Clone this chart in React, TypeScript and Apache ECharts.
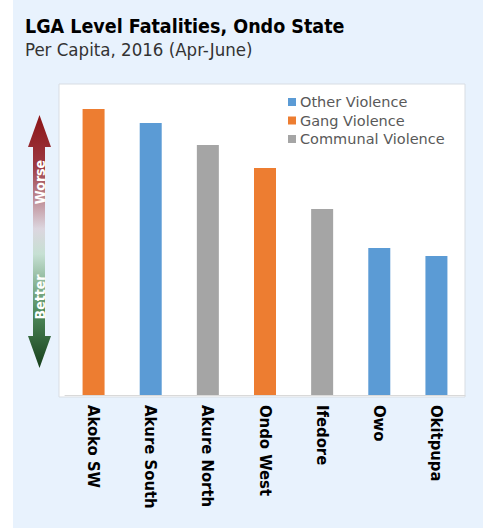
import React, { useEffect, useRef } from "react";
import * as echarts from "echarts";

const categories = ["Akoko SW", "Akure South", "Akure North", "Ondo West", "Ifedore", "Owo", "Okitpupa"];
const values = [2.86, 2.72, 2.5, 2.27, 1.86, 1.47, 1.39];
const types = ["Gang Violence", "Other Violence", "Communal Violence", "Gang Violence", "Communal Violence", "Other Violence", "Other Violence"];
const seriesNames = ["Other Violence", "Gang Violence", "Communal Violence"];
const seriesColors = ["#5b9bd5", "#ed7d31", "#a5a5a5"];

const NARROW = "'DejaVu Sans Condensed', 'Open Sans', sans-serif";

export default function App() {
  const ref = useRef<HTMLDivElement>(null);
  useEffect(() => {
    if (!ref.current) return;
    const chart = echarts.init(ref.current, undefined, { renderer: "svg" });
    const series = seriesNames.map((name, si) => ({
      name,
      type: "bar",
      stack: "all",
      barWidth: 22,
      itemStyle: { color: seriesColors[si] },
      data: values.map((v, i) => (types[i] === name ? v : null)),
    }));
    chart.setOption({
      animation: false,
      backgroundColor: "#ffffff",
      title: [
        {
          text: "LGA Level Fatalities, Ondo State",
          left: 20,
          top: 11,
          textStyle: { fontFamily: NARROW, fontWeight: "bold", fontSize: 19.5, color: "#000000" },
        },
        {
          text: "Per Capita, 2016 (Apr-June)",
          left: 20,
          top: 35,
          textStyle: { fontFamily: NARROW, fontWeight: "normal", fontSize: 18.5, color: "#333333" },
        },
      ],
      legend: {
        orient: "vertical",
        left: 283,
        top: 89.5,
        itemWidth: 8,
        itemHeight: 8,
        itemGap: 3.5,
        icon: "rect",
        data: seriesNames,
        textStyle: { fontFamily: "DejaVu Sans", fontSize: 14.5, color: "#595959", padding: [0, 0, 0, -1] },
      },
      grid: { left: 65, right: 18, top: 84, bottom: 134 },
      xAxis: {
        type: "category",
        data: categories,
        axisLine: { lineStyle: { color: "#d9d9d9", width: 1 } },
        axisTick: { show: false },
        axisLabel: {
          rotate: -90,
          margin: 10,
          fontFamily: NARROW,
          fontWeight: "bold",
          fontSize: 16.5,
          color: "#000000",
          interval: 0,
        },
      },
      yAxis: {
        type: "value",
        min: 0,
        max: 3.11,
        show: false,
        splitLine: { show: false },
      },
      graphic: [
        { type: "rect", z: -10, silent: true, shape: { x: 13, y: 0, width: 470, height: 528 }, style: { fill: "#e8f2fd" } },
        { type: "rect", z: -9, silent: true, shape: { x: 59, y: 84, width: 406, height: 313 }, style: { fill: "#ffffff", stroke: "#d8dde3", lineWidth: 1 } },
        {
          type: "polygon",
          silent: true,
          shape: {
            points: [
              [39.5, 115], [51, 147], [45, 147], [45, 336], [51, 336], [39.5, 368], [28, 336], [33, 336], [33, 147], [28, 147],
            ],
          },
          style: {
            fill: new echarts.graphic.LinearGradient(0, 0, 0, 1, [
              { offset: 0, color: "#8c1416" },
              { offset: 0.2, color: "#9c3942" },
              { offset: 0.45, color: "#dcd6df" },
              { offset: 0.55, color: "#c6e0d3" },
              { offset: 0.78, color: "#4f8a5b" },
              { offset: 1, color: "#163f1b" },
            ]),
          },
        },
        {
          type: "text",
          silent: true,
          x: 39.5,
          y: 182,
          rotation: Math.PI / 2,
          style: { text: "Worse", fill: "#ffffff", fontFamily: NARROW, fontWeight: "bold", fontSize: 14, align: "center", verticalAlign: "middle" },
        },
        {
          type: "text",
          silent: true,
          x: 39.5,
          y: 297,
          rotation: Math.PI / 2,
          style: { text: "Better", fill: "#ffffff", fontFamily: NARROW, fontWeight: "bold", fontSize: 14, align: "center", verticalAlign: "middle" },
        },
      ],
      series,
    });
    return () => chart.dispose();
  }, []);
  return <div ref={ref} style={{ position: "fixed", left: 0, top: 0, width: 483, height: 529 }} />;
}
